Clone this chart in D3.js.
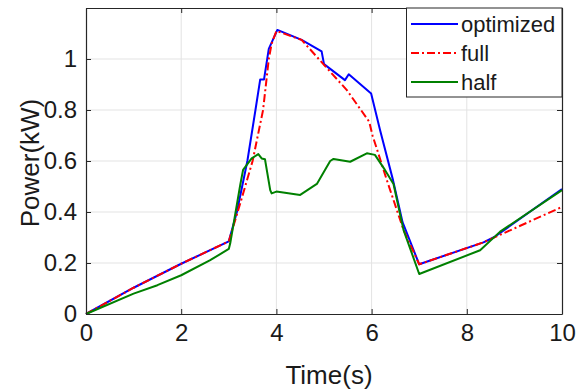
<!DOCTYPE html>
<html>
<head>
<meta charset="utf-8">
<script src="https://d3js.org/d3.v7.min.js"></script>
<style>
  body { margin: 0; background: #fff; }
  svg { display: block; font-family: "Liberation Sans", Arial, sans-serif; }
</style>
</head>
<body>
<script>
// series
const optTime = [0, 1, 2, 3, 3.17, 3.39, 3.56, 3.66, 3.74, 3.84, 4.02, 4.53, 4.95, 5.0, 5.44, 5.52, 5.99, 6.18, 6.45, 6.65, 7.0, 8.35, 8.58, 10];
const optPower = [0, 0.103, 0.197, 0.285, 0.4, 0.6, 0.8, 0.92, 0.92, 1.04, 1.114, 1.075, 1.03, 0.98, 0.917, 0.94, 0.865, 0.72, 0.525, 0.36, 0.195, 0.281, 0.302, 0.49];

const fullTime = [0, 1, 2, 3, 3.25, 3.5, 3.72, 3.84, 3.9, 4.0, 4.53, 5.0, 5.48, 5.95, 6.02, 6.32, 6.67, 7.0, 8.35, 10];
const fullPower = [0, 0.103, 0.197, 0.285, 0.44, 0.6, 0.8, 1.0, 1.06, 1.11, 1.075, 0.977, 0.878, 0.754, 0.7, 0.525, 0.33, 0.195, 0.281, 0.42];

const halfTime = [0, 1, 1.5, 2, 2.6, 3.0, 3.03, 3.24, 3.3, 3.48, 3.62, 3.69, 3.76, 3.87, 3.9, 4.0, 4.5, 4.85, 5.13, 5.2, 5.55, 5.9, 6.07, 6.28, 6.46, 6.67, 7.0, 8.28, 8.7, 10];
const halfPower = [0, 0.08, 0.113, 0.152, 0.21, 0.255, 0.277, 0.506, 0.565, 0.61, 0.627, 0.61, 0.607, 0.486, 0.473, 0.48, 0.467, 0.51, 0.6, 0.608, 0.597, 0.63, 0.624, 0.565, 0.51, 0.33, 0.157, 0.25, 0.323, 0.486];

const xTicks = [0, 2, 4, 6, 8, 10];
const yTicks = [0, 0.2, 0.4, 0.6, 0.8, 1];
const seriesNames = ["optimized", "full", "half"];

const W = 585, H = 391;
const mLeft = 86, mRight = 562, mTop = 8, mBottom = 314;

const svg = d3.select("body").append("svg").attr("width", W).attr("height", H);

const x = d3.scaleLinear().domain([0, 10]).range([mLeft, mRight]);
const y = d3.scaleLinear().domain([0, 1.2]).range([mBottom, mTop]);

// grid
const grid = svg.append("g");
grid.selectAll(".gx").data(xTicks.slice(1, -1)).enter().append("line")
  .attr("x1", d => x(d)).attr("x2", d => x(d)).attr("y1", mTop).attr("y2", mBottom)
  .attr("stroke", "#e3e3e3").attr("stroke-width", 1);
grid.selectAll(".gy").data(yTicks.slice(1)).enter().append("line")
  .attr("x1", mLeft).attr("x2", mRight).attr("y1", d => y(d)).attr("y2", d => y(d))
  .attr("stroke", "#e3e3e3").attr("stroke-width", 1);

// lines
const line = d3.line().x(d => x(d[0])).y(d => y(d[1]));
const series = [
  { name: seriesNames[0], pts: d3.zip(optTime, optPower), color: "#0000ff", dash: null },
  { name: seriesNames[1], pts: d3.zip(fullTime, fullPower), color: "#ff0000", dash: "8,3,2,3" },
  { name: seriesNames[2], pts: d3.zip(halfTime, halfPower), color: "#008000", dash: null }
];

svg.append("g").selectAll("path").data(series).enter().append("path")
  .attr("d", d => line(d.pts))
  .attr("fill", "none")
  .attr("stroke", d => d.color)
  .attr("stroke-width", 2)
  .attr("stroke-dasharray", d => d.dash)
  .attr("stroke-linejoin", "round");

// axes box + inward ticks
const axisColor = "#262626";
const xAxis = d3.axisBottom(x).tickValues(xTicks).tickSizeInner(-5).tickSizeOuter(0).tickPadding(10).tickFormat(d3.format("d"));
const yAxis = d3.axisLeft(y).tickValues(yTicks).tickSizeInner(-5).tickSizeOuter(0).tickPadding(9).tickFormat(d => d === 0 || d === 1 ? d3.format("d")(d) : d3.format(".1f")(d));

const gx = svg.append("g").attr("transform", `translate(0,${mBottom})`).call(xAxis);
const gy = svg.append("g").attr("transform", `translate(${mLeft},0)`).call(yAxis);
const gxTop = svg.append("g").attr("transform", `translate(0,${mTop})`)
  .call(d3.axisTop(x).tickValues(xTicks).tickSizeInner(-5).tickSizeOuter(0).tickFormat(""));
const gyRight = svg.append("g").attr("transform", `translate(${mRight},0)`)
  .call(d3.axisRight(y).tickValues(yTicks).tickSizeInner(-5).tickSizeOuter(0).tickFormat(""));

[gx, gy, gxTop, gyRight].forEach(g => {
  g.select(".domain").attr("stroke", axisColor).attr("stroke-width", 1.2);
  g.selectAll(".tick line").attr("stroke", axisColor);
  g.selectAll("text").attr("fill", "#1a1a1a").style("font-size", "24px").style("font-family", "\"Liberation Sans\", Arial, sans-serif");
});
gx.selectAll(".tick text").attr("dy", "0.71em");

// axis labels
svg.append("text").attr("x", 329).attr("y", 384).attr("text-anchor", "middle")
  .style("font-size", "26px").attr("fill", "#1a1a1a").text("Time(s)");
svg.append("text").attr("transform", `translate(39,${(mTop + mBottom) / 2 + 2}) rotate(-90)`)
  .attr("text-anchor", "middle").style("font-size", "26px").attr("fill", "#1a1a1a").text("Power(kW)");

// legend
const lg = svg.append("g");
lg.append("rect").attr("x", 406.5).attr("y", mTop).attr("width", mRight - 406.5).attr("height", 89)
  .attr("fill", "#fff").attr("stroke", axisColor).attr("stroke-width", 1);
const rows = lg.selectAll(".row").data(series).enter().append("g")
  .attr("transform", (d, i) => `translate(0,${24 + i * 29})`);
rows.append("line").attr("x1", 411).attr("x2", 458).attr("y1", 0).attr("y2", 0)
  .attr("stroke", d => d.color).attr("stroke-width", 2).attr("stroke-dasharray", d => d.dash);
rows.append("text").attr("x", 461).attr("y", 0).attr("dy", "0.35em")
  .style("font-size", "22px").attr("fill", "#1a1a1a").text(d => d.name);
</script>
</body>
</html>
